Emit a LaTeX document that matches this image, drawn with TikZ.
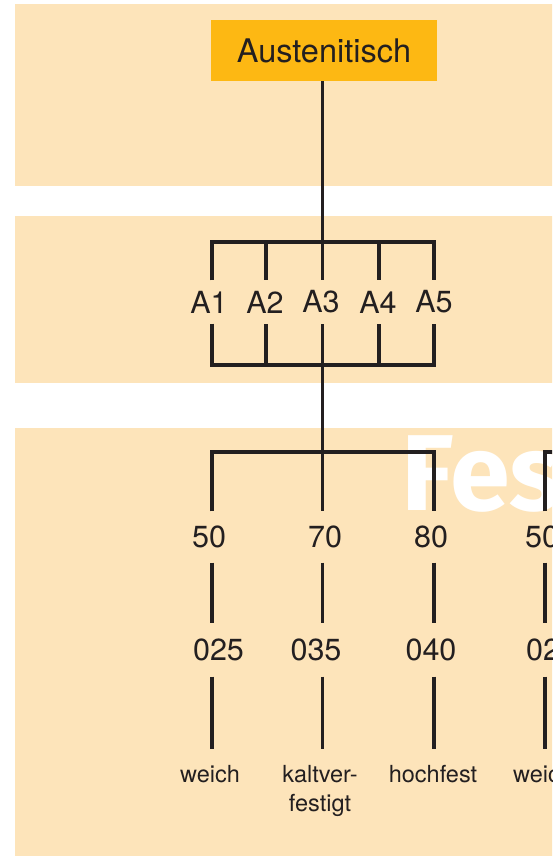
\documentclass[tikz,border=0pt]{standalone}
\usepackage{fontspec}
\setmainfont{TeX Gyre Heros}
\newfontfamily\wmfont{Fira Sans}
\definecolor{bandfill}{HTML}{FDE4BA}
\definecolor{rootfill}{HTML}{FDB813}
\definecolor{ink}{HTML}{231F20}
\tikzset{
  band/.style={fill=bandfill,draw=none},
  rootbox/.style={fill=rootfill,draw=none,minimum width=226pt,minimum height=61pt,inner sep=0pt,text=ink,font=\fontsize{32.5}{38}\selectfont},
  conn/.style={draw=ink,line width=3.4pt},
  alabel/.style={text=ink,inner sep=0pt,minimum height=43pt,font=\fontsize{30.5}{36}\selectfont},
  numlabel/.style={text=ink,inner sep=0pt,minimum height=51pt,font=\fontsize{30.5}{36}\selectfont},
  codelabel/.style={text=ink,inner sep=0pt,minimum height=53pt,font=\fontsize{30.5}{36}\selectfont},
  desclabel/.style={text=ink,inner sep=0pt,align=center,font=\fontsize{23.5}{29}\selectfont},
  watermark/.style={text=white,inner sep=0pt,font=\wmfont\bfseries\fontsize{108}{120}\selectfont}
}
\begin{document}
\begin{tikzpicture}[x=1pt,y=-1pt]
\useasboundingbox (0,0) rectangle (552,856);
\clip (0,0) rectangle (552,856);
\fill[white] (0,0) rectangle (552,856);
% bands
\fill[band] (15,4) rectangle (560,186);
\fill[band] (15,216) rectangle (560,383);
\fill[band] (15,428) rectangle (560,860);
% watermark
\node[watermark,anchor=base west] (wm) at (401,510) {Fes};
% root
\node[rootbox] (root) at (324,50.5) {Austenitisch};
% A level
\foreach \n/\tx/\lx in {1/212/209,2/266/265,3/322.5/321,4/379/378,5/434/434} {
  \node[alabel] (A\n) at (\lx,302) {A\n};
  \coordinate (tA\n) at (\tx,242);
  \coordinate (bA\n) at (\tx,365);
}
\draw[conn] (root.south -| tA3) -- (tA3);
\draw[conn] (A1.north -| tA1) -- (tA1) -- (tA5) -- (A5.north -| tA5);
\foreach \n in {2,3,4} { \draw[conn] (tA\n) -- (A\n.north -| tA\n); }
\draw[conn] (A1.south -| bA1) -- (bA1) -- (bA5) -- (A5.south -| bA5);
\foreach \n in {2,3,4} { \draw[conn] (bA\n) -- (A\n.south -| bA\n); }
% strength level
\foreach \n/\tx/\nx/\num/\cx/\code in {1/212/209/50/218.5/025,2/322.5/325/70/316/035,3/434/431/80/431/040,4/545/542/50/551.5/025} {
  \coordinate (tS\n) at (\tx,452);
  \node[numlabel] (S\n) at (\nx,537) {\num};
  \node[codelabel] (C\n) at (\cx,650) {\code};
  \coordinate (eC\n) at (\tx,749);
  \draw[conn] (S\n.south -| tS\n) -- (C\n.north -| tS\n);
  \draw[conn] (C\n.south -| tS\n) -- (eC\n);
}
\coordinate (tSx) at (560,452);
\draw[conn] (bA3) -- (tS2);
\draw[conn] (S1.north -| tS1) -- (tS1) -- (tS3) -- (S3.north -| tS3);
\draw[conn] (tS2) -- (S2.north -| tS2);
\draw[conn] (S4.north -| tS4) -- (tS4) -- (tSx);
% descriptions
\node[desclabel,anchor=north] (D1) at (210,765) {weich};
\node[desclabel,anchor=north] (D2) at (320,765) {kaltver-\\festigt};
\node[desclabel,anchor=north] (D3) at (433,765) {hochfest};
\node[desclabel,anchor=north] (D4) at (543,765) {weich};
\end{tikzpicture}
\end{document}
